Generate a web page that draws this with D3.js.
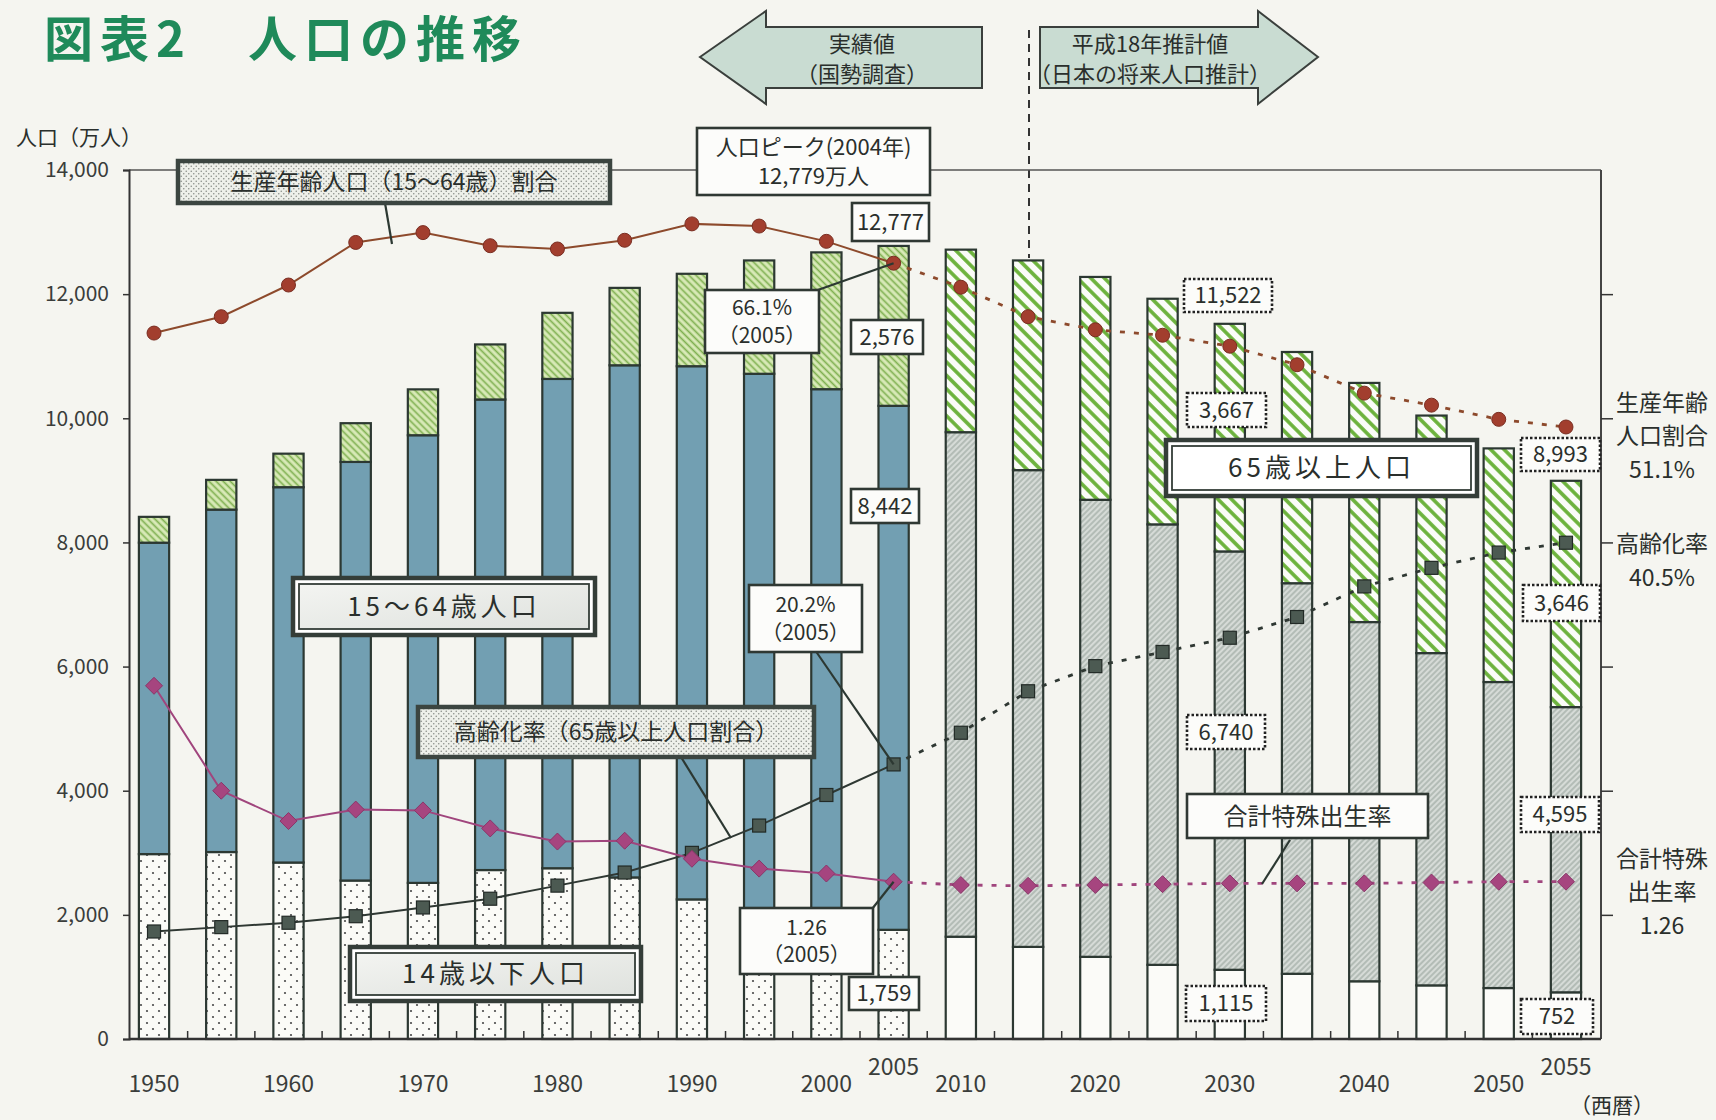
<!DOCTYPE html>
<html><head><meta charset="utf-8">
<script src="https://cdn.jsdelivr.net/npm/d3@7"></script>
<style>
body{margin:0;background:#f5f5f0;}
svg{display:block;}
text{font-family:"Noto Sans CJK JP","Noto Sans",sans-serif;fill:#2a2f2c;}
</style></head><body>
<svg id="chart" width="1716" height="1120"></svg>
<script>
// ---------------- data ----------------
const years = [1950,1955,1960,1965,1970,1975,1980,1985,1990,1995,2000,2005,2010,2015,2020,2025,2030,2035,2040,2045,2050,2055];
const pop0to14  = [2979,3012,2843,2553,2515,2722,2751,2603,2249,2001,1847,1759,1648,1484,1324,1195,1115,1051,930,864,821,752];
const pop15to64 = [5017,5517,6047,6744,7212,7581,7883,8251,8590,8716,8622,8442,8128,7681,7363,7096,6740,6292,5787,5353,4930,4595];
const pop65plus = [416,479,540,624,739,887,1065,1247,1489,1826,2204,2576,2941,3378,3590,3635,3667,3725,3853,3827,3764,3646];
const workingRatio = [59.7,61.2,64.1,68.0,68.9,67.7,67.4,68.2,69.7,69.5,68.1,66.1,63.9,61.2,60.0,59.5,58.5,56.8,54.2,53.1,51.8,51.1];
const agingRate    = [4.9,5.3,5.7,6.3,7.1,7.9,9.1,10.3,12.1,14.6,17.4,20.2,23.1,26.9,29.2,30.5,31.8,33.7,36.5,38.2,39.6,40.5];
const fertility    = [3.65,2.37,2.00,2.14,2.13,1.91,1.75,1.76,1.54,1.42,1.36,1.26,1.22,1.21,1.22,1.23,1.24,1.24,1.24,1.25,1.26,1.26];
const yTicks = [0,2000,4000,6000,8000,10000,12000,14000];
const xTickLabels = [1950,1960,1970,1980,1990,2000,2010,2020,2030,2040,2050];
const xRaisedLabels = [2005,2055];
const lastActualYear = 2005;

// ---------------- setup ----------------
const svg = d3.select('#chart');
const defs = svg.append('defs');
const DARK = '#2c3832';
const fmt = d3.format(',');

const plot = {left:129, right:1601, top:170, bottom:1039};
const x = d3.scaleBand().domain(years).range([120.4,1599.6]).paddingInner(0.55).paddingOuter(0.275);
const bw = x.bandwidth();
const cx = y => x(y) + bw/2;
const yPop = d3.scaleLinear().domain([0,14000]).range([plot.bottom, plot.top]);
const yPct = d3.scaleLinear().domain([0,70]).range([985, 220.6]);
const yTfr = d3.scaleLinear().domain([0,4]).range([985, 657.1]);

// background
svg.append('rect').attr('width',1716).attr('height',1120).attr('fill','#f5f5f0');

// ---------------- patterns ----------------
function hatch(id, bg, stroke, sw, size, angle){
  const p = defs.append('pattern').attr('id',id).attr('patternUnits','userSpaceOnUse')
    .attr('width',size).attr('height',size).attr('patternTransform',`rotate(${angle})`);
  p.append('rect').attr('width',size).attr('height',size).attr('fill',bg);
  p.append('line').attr('x1',size/2).attr('x2',size/2).attr('y1',-1).attr('y2',size+1)
    .attr('stroke',stroke).attr('stroke-width',sw);
}
hatch('oldHist','#d9eab8','#7fb050',1.7,5,-45);
hatch('oldProj','#fbfcf8','#6cb23c',3.6,9.5,-45);
hatch('workProj','#d6dbd7','#97a39b',1.1,4,45);
function dots(id,bg,fg,s,r){
  const p = defs.append('pattern').attr('id',id).attr('patternUnits','userSpaceOnUse').attr('width',s).attr('height',s);
  p.append('rect').attr('width',s).attr('height',s).attr('fill',bg);
  p.append('circle').attr('cx',s/4).attr('cy',s/4).attr('r',r).attr('fill',fg);
  p.append('circle').attr('cx',s*3/4).attr('cy',s*3/4).attr('r',r).attr('fill',fg);
}
dots('childHist','#fbfbf7','#4a4a4a',12,1.1);
dots('boxDots','#eef0ea','#8a8f8a',5,0.8);
const grad = defs.append('linearGradient').attr('id','boxGrad').attr('x1',0).attr('x2',1).attr('y1',0).attr('y2',1);
grad.append('stop').attr('offset','0%').attr('stop-color','#f3f4f1');
grad.append('stop').attr('offset','100%').attr('stop-color','#dfe2de');

// ---------------- title ----------------
svg.append('text').attr('x',44).attr('y',57).attr('font-size',49).attr('font-weight',700)
  .style('fill','#1f8a5a').attr('letter-spacing',7).text('図表2　人口の推移');

// ---------------- arrows ----------------
function arrowShape(pts, lines, tx){
  svg.append('path').attr('d', d3.line()(pts)+'Z').attr('fill','#c9dcd2').attr('stroke','#3a3f3c').attr('stroke-width',2);
  lines.forEach((t,i)=>svg.append('text').attr('x',tx).attr('y',52+i*30).attr('text-anchor','middle')
    .attr('font-size',22).text(t));
}
arrowShape([[700,57],[766,11],[766,27],[982,27],[982,88],[766,88],[766,104]], ['実績値','（国勢調査）'], 862);
arrowShape([[1318,57],[1258,11],[1258,27],[1040,27],[1040,88],[1258,88],[1258,104]], ['平成18年推計値','（日本の将来人口推計）'], 1150);
svg.append('line').attr('x1',1029).attr('x2',1029).attr('y1',30).attr('y2',258)
  .attr('stroke','#333').attr('stroke-width',2).attr('stroke-dasharray','8,6');

// ---------------- frame & axes ----------------
const frame = svg.append('g');
frame.append('line').attr('x1',plot.left).attr('x2',plot.right).attr('y1',plot.top).attr('y2',plot.top).attr('stroke','#555').attr('stroke-width',1.5);
frame.append('line').attr('x1',plot.right).attr('x2',plot.right).attr('y1',plot.top).attr('y2',plot.bottom).attr('stroke','#444').attr('stroke-width',2);

const yAxis = svg.append('g').attr('transform',`translate(${plot.left},0)`)
  .call(d3.axisLeft(yPop).tickValues(yTicks).tickFormat(fmt).tickSize(6).tickPadding(14));
yAxis.select('.domain').attr('stroke','#333').attr('stroke-width',2);
yAxis.selectAll('.tick line').attr('stroke','#333').attr('stroke-width',1.5);
yAxis.selectAll('.tick text').attr('font-size',21).style('fill','#3a3d3b');

const yAxisR = svg.append('g').attr('transform',`translate(${plot.right},0)`)
  .call(d3.axisLeft(yPop).tickValues(yTicks.slice(1,-1)).tickFormat('').tickSize(12));
yAxisR.select('.domain').remove();
yAxisR.selectAll('.tick line').attr('stroke','#333').attr('stroke-width',1.5).attr('transform','translate(12,0)');

svg.append('text').attr('x',16).attr('y',145).attr('font-size',21).text('人口（万人）');

// ---------------- bars ----------------
const rows = years.map((yr,i)=>({year:yr, c:pop0to14[i], w:pop15to64[i], o:pop65plus[i]}));
const stack = d3.stack().keys(['c','w','o'])(rows);
const fillFor = (key, yr) => {
  const hist = yr <= lastActualYear;
  if(key==='c') return hist ? 'url(#childHist)' : '#fbfbf8';
  if(key==='w') return hist ? '#729fb2' : 'url(#workProj)';
  return hist ? 'url(#oldHist)' : 'url(#oldProj)';
};
const barG = svg.append('g');
stack.forEach(layer=>{
  barG.selectAll(null).data(layer).join('rect')
    .attr('x',d=>x(d.data.year)).attr('width',bw)
    .attr('y',d=>yPop(d[1])).attr('height',d=>yPop(d[0])-yPop(d[1]))
    .attr('fill',d=>fillFor(layer.key,d.data.year))
    .attr('stroke',DARK).attr('stroke-width',2.2);
});

// x axis
svg.append('line').attr('x1',plot.left).attr('x2',plot.right).attr('y1',plot.bottom).attr('y2',plot.bottom).attr('stroke','#333').attr('stroke-width',2.5);
const bounds = d3.range(years.length+1).map(i=>x.range()[0]+x.step()*i).filter(v=>v>plot.left+2 && v<plot.right-2);
svg.selectAll(null).data(bounds).join('line').attr('x1',d=>d).attr('x2',d=>d)
  .attr('y1',plot.bottom).attr('y2',plot.bottom-8).attr('stroke','#333').attr('stroke-width',1.5);
svg.selectAll(null).data(xTickLabels).join('text').attr('x',d=>cx(d)).attr('y',1092)
  .attr('text-anchor','middle').attr('font-size',23).style('fill','#3a3d3b').text(d=>d);
svg.selectAll(null).data(xRaisedLabels).join('text').attr('x',d=>cx(d)).attr('y',1075)
  .attr('text-anchor','middle').attr('font-size',23).style('fill','#3a3d3b').text(d=>d);
svg.append('text').attr('x',1612).attr('y',1113).attr('text-anchor','middle').attr('font-size',21).text('（西暦）');

// ---------------- lines ----------------
const idxSplit = years.indexOf(lastActualYear);
function series(vals, scale, color, dash, lw){
  const pts = years.map((yr,i)=>[cx(yr), scale(vals[i])]);
  const line = d3.line();
  svg.append('path').attr('d',line(pts.slice(0,idxSplit+1))).attr('fill','none').attr('stroke',color).attr('stroke-width',lw);
  svg.append('path').attr('d',line(pts.slice(idxSplit))).attr('fill','none').attr('stroke',color).attr('stroke-width',lw+0.8).attr('stroke-dasharray',dash);
  return pts;
}
const ptsR = series(workingRatio, yPct, '#8d4a2c', '5,9', 2);
const ptsA = series(agingRate, yPct, '#2f3833', '5,9', 2);
const ptsF = series(fertility, yTfr, '#a0457d', '5,9', 2);
svg.selectAll(null).data(ptsR).join('circle').attr('cx',d=>d[0]).attr('cy',d=>d[1]).attr('r',7)
  .attr('fill','#a23e2e').attr('stroke','#7a2e22').attr('stroke-width',1);
svg.selectAll(null).data(ptsA).join('rect').attr('x',d=>d[0]-6.5).attr('y',d=>d[1]-6.5).attr('width',13).attr('height',13)
  .attr('fill','#4c5a52').attr('stroke','#222a26').attr('stroke-width',1.2);
svg.selectAll(null).data(ptsF).join('path')
  .attr('d',d=>`M${d[0]},${d[1]-8.5}L${d[0]+8.5},${d[1]}L${d[0]},${d[1]+8.5}L${d[0]-8.5},${d[1]}Z`)
  .attr('fill','#a6457f').attr('stroke','#8a3568').attr('stroke-width',1);

// ---------------- annotations ----------------
function leader(x1,y1,x2,y2){
  svg.append('line').attr('x1',x1).attr('y1',y1).attr('x2',x2).attr('y2',y2).attr('stroke',DARK).attr('stroke-width',2.2);
}
function box(x0,y0,w,h,lines,style,fs,opt={}){
  const g = svg.append('g');
  if(style==='double'){
    g.append('rect').attr('x',x0).attr('y',y0).attr('width',w).attr('height',h).attr('fill','#fff').attr('stroke','#343d38').attr('stroke-width',4.5);
    g.append('rect').attr('x',x0+6).attr('y',y0+6).attr('width',w-12).attr('height',h-12)
      .attr('fill',opt.fill||'url(#boxGrad)').attr('stroke','#343d38').attr('stroke-width',1.8);
  } else if(style==='dotted'){
    g.append('rect').attr('x',x0).attr('y',y0).attr('width',w).attr('height',h).attr('fill','url(#boxDots)').attr('stroke','#3b4540').attr('stroke-width',4.5);
  } else if(style==='dashed'){
    g.append('rect').attr('x',x0).attr('y',y0).attr('width',w).attr('height',h).attr('fill','#fcfcfa').attr('stroke','#222').attr('stroke-width',2.6).attr('stroke-dasharray','2.5,2');
  } else {
    g.append('rect').attr('x',x0).attr('y',y0).attr('width',w).attr('height',h).attr('fill','#fcfcfa').attr('stroke','#2f3833').attr('stroke-width',2.6);
  }
  const n = lines.length, lh = opt.lh || fs*1.3;
  lines.forEach((t,i)=>g.append('text').attr('x',x0+w/2).attr('y',y0+h/2+(i-(n-1)/2)*lh)
    .attr('dy','0.36em').attr('text-anchor','middle').attr('font-size',fs)
    .attr('letter-spacing',opt.ls||0).attr('font-weight',opt.fw||400).text(t));
}
const iOf = yr => years.indexOf(yr);
const total = i => pop0to14[i]+pop15to64[i]+pop65plus[i];
const i05 = iOf(2005), i30 = iOf(2030), i55 = iOf(2055);

leader(385,203,392,244);
box(178,161,432,42,['生産年齢人口（15～64歳）割合'],'dotted',23);
box(697,128,233,67,['人口ピーク(2004年)','12,779万人'],'plain',22);
box(852,203,77,38,[fmt(total(i05))],'plain',22);
leader(815,291,ptsR[i05][0],ptsR[i05][1]);
box(705,290,114,63,[workingRatio[i05]+'%','（2005）'],'plain',21);
box(851,320,72,34,[fmt(pop65plus[i05])],'plain',22);
box(851,489,68,34,[fmt(pop15to64[i05])],'plain',22);
box(293,578,302,57,['15～64歳人口'],'double',26,{ls:4});
leader(815,650,ptsA[i05][0],ptsA[i05][1]);
box(749,585,113,67,[agingRate[i05]+'%','（2005）'],'plain',21);
leader(681,757,731,838);
box(418,707,396,50,['高齢化率（65歳以上人口割合）'],'dotted',23);
leader(872,909,ptsF[i05][0],ptsF[i05][1]);
box(740,908,133,66,[fertility[i05].toFixed(2),'（2005）'],'plain',21);
box(849,977,70,33,[fmt(pop0to14[i05])],'plain',22);
box(350,947,291,54,['14歳以下人口'],'double',26,{ls:4});

box(1184,279,88,33,[fmt(total(i30))],'dashed',22);
box(1187,393,79,34,[fmt(pop65plus[i30])],'dashed',22);
box(1166,440,311,56,['65歳以上人口'],'double',26,{ls:4,fill:'#fff'});
box(1187,715,78,34,[fmt(pop15to64[i30])],'dashed',22);
leader(1290,840,1262,884);
box(1187,794,241,44,['合計特殊出生率'],'plain',24);
box(1186,986,80,35,[fmt(pop0to14[i30])],'dashed',22);

box(1521,438,79,33,[fmt(total(i55))],'dashed',22);
box(1523,585,77,36,[fmt(pop65plus[i55])],'dashed',22);
box(1521,797,78,35,[fmt(pop15to64[i55])],'dashed',22);
box(1521,999,72,35,[fmt(pop0to14[i55])],'dashed',22);

// right side labels
const rl = (t,y)=>svg.append('text').attr('x',1662).attr('y',y).attr('text-anchor','middle').attr('font-size',23).text(t);
rl('生産年齢',411); rl('人口割合',444); rl(workingRatio[i55]+'%',478);
rl('高齢化率',552); rl(agingRate[i55]+'%',586);
rl('合計特殊',867); rl('出生率',900); rl(fertility[i55].toFixed(2),934);
</script>
</body></html>
